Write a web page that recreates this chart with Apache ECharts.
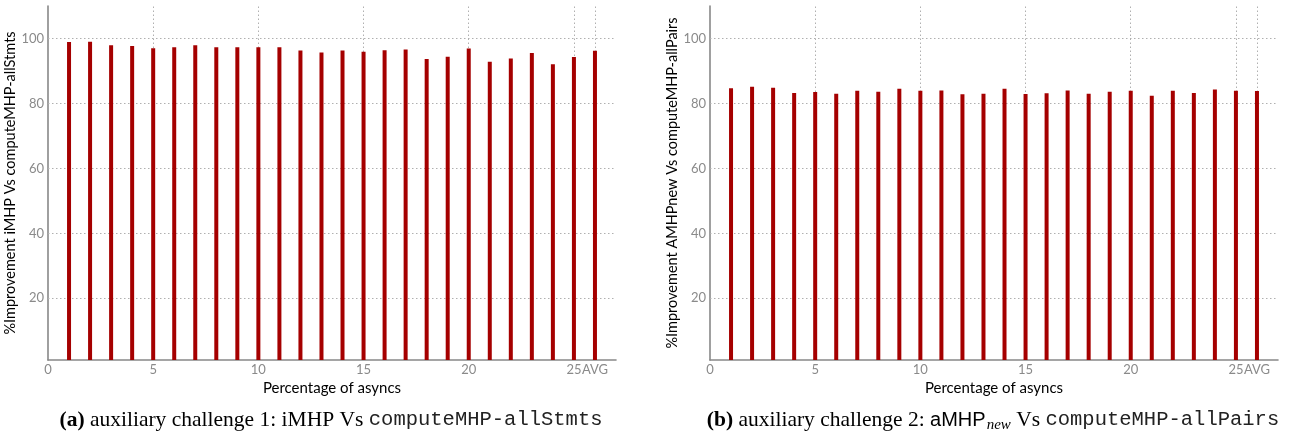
<!DOCTYPE html>
<html>
<head>
<meta charset="utf-8">
<script src="https://cdn.jsdelivr.net/npm/echarts@6/dist/echarts.min.js"></script>
<style>html,body{margin:0;padding:0;background:#fff}#c{width:1300px;height:434px}</style>
</head>
<body>
<div id="c"></div>
<script>
// x positions: percentage of asyncs 1..25, plus AVG at position 26
const xPositions = [1,2,3,4,5,6,7,8,9,10,11,12,13,14,15,16,17,18,19,20,21,22,23,24,25,26];
const xTickValues = [0,5,10,15,20,25,26];
const xTickLabels = ['0','5','10','15','20','25','AVG'];
const xGridValues = [5,10,15,20,25,26];
const yTickValues = [20,40,60,80,100];

const improvementA = [98.9,99.0,97.9,97.7,97.0,97.3,97.9,97.3,97.3,97.3,97.3,96.3,95.7,96.3,95.9,96.4,96.6,93.7,94.4,96.9,92.8,93.8,95.5,92.1,94.3,96.2];
const improvementB = [84.7,85.1,84.8,83.2,83.5,83.0,83.9,83.6,84.5,83.9,84.0,82.8,83.0,84.5,82.9,83.1,84.0,83.0,83.6,83.9,82.4,83.9,83.2,84.3,83.9,83.8];

const yNameA = '%Improvement iMHP Vs computeMHP-allStmts';
const yNameB = '%Improvement AMHPnew Vs computeMHP-allPairs';
const xName = 'Percentage of asyncs';

const FONT = 'Lato, "Open Sans", sans-serif';
const GRAY = '#8a8a8a';
const GRID_LINE = { color: '#b0b0b0', type: [1.5, 2.5], width: 1 };

function xAxis(gi) {
  return {
    type: 'value', gridIndex: gi, min: 0, max: 27,
    name: xName, nameLocation: 'middle', nameGap: 12,
    nameTextStyle: { color: '#000', fontSize: 15, fontFamily: FONT },
    axisLine: { show: true, lineStyle: { color: '#888', width: 1.6 } },
    axisTick: { show: false },
    axisLabel: {
      customValues: xTickValues, color: GRAY, fontSize: 13, fontFamily: FONT, margin: 3,
      formatter: v => xTickLabels[xTickValues.indexOf(v)]
    },
    splitLine: { show: false }
  };
}
function yAxis(gi, name) {
  return {
    type: 'value', gridIndex: gi, min: 1, max: 110,
    name: name, nameLocation: 'middle', nameGap: 26, nameRotate: 90,
    nameTextStyle: { color: '#000', fontSize: 14.5, fontFamily: FONT },
    axisLine: { show: true, lineStyle: { color: '#888', width: 1.6 } },
    axisTick: { show: false },
    axisLabel: { customValues: yTickValues, color: GRAY, fontSize: 13, fontFamily: FONT, margin: 4 },
    splitLine: { show: false }
  };
}
function gridSeries(gi) {
  return {
    type: 'line', xAxisIndex: gi, yAxisIndex: gi, data: [], z: 1, silent: true,
    markLine: {
      z: 1, silent: true, symbol: 'none', animation: false,
      label: { show: false },
      lineStyle: GRID_LINE,
      data: xGridValues.map(v => ({ xAxis: v })).concat(yTickValues.map(v => ({ yAxis: v })))
    }
  };
}
function barSeries(gi, vals) {
  return {
    type: 'bar', xAxisIndex: gi, yAxisIndex: gi, barWidth: 4, z: 3,
    itemStyle: { color: '#a50000' },
    data: xPositions.map((x, i) => [x, vals[i]])
  };
}

const chart = echarts.init(document.getElementById('c'), null, { renderer: 'canvas' });
chart.setOption({
  animation: false,
  grid: [
    { left: 48, width: 568, top: 6, height: 354 },
    { left: 710, width: 568, top: 6, height: 354 }
  ],
  xAxis: [xAxis(0), xAxis(1)],
  yAxis: [yAxis(0, yNameA), yAxis(1, yNameB)],
  series: [gridSeries(0), gridSeries(1), barSeries(0, improvementA), barSeries(1, improvementB)],
  graphic: [
    { type: 'text', x: 331, y: 420, style: {
      text: '{b|(a)}{s| auxiliary challenge 1: iMHP Vs }{m|computeMHP-allStmts}',
      align: 'center', verticalAlign: 'middle',
      rich: {
        b: { fontFamily: '"Liberation Serif", serif', fontWeight: 'bold', fontSize: 21.5, fill: '#000' },
        s: { fontFamily: '"Liberation Serif", serif', fontSize: 21.5, fill: '#000' },
        m: { fontFamily: '"Liberation Mono", monospace', fontSize: 20.5, fill: '#222' }
      }
    }},
    { type: 'text', x: 993, y: 420, style: {
      text: '{b|(b)}{s| auxiliary challenge 2: }{h|aMHP}{sub|new}{s| Vs }{m|computeMHP-allPairs}',
      align: 'center', verticalAlign: 'middle',
      rich: {
        b: { fontFamily: '"Liberation Serif", serif', fontWeight: 'bold', fontSize: 21.5, fill: '#000' },
        s: { fontFamily: '"Liberation Serif", serif', fontSize: 21.5, fill: '#000' },
        h: { fontFamily: '"Liberation Sans", sans-serif', fontSize: 20, fill: '#000' },
        sub: { fontFamily: '"Liberation Serif", serif', fontStyle: 'italic', fontSize: 15, fill: '#000', padding: [10, 0, 0, 1] },
        m: { fontFamily: '"Liberation Mono", monospace', fontSize: 20.5, fill: '#222' }
      }
    }}
  ]
});
</script>
</body>
</html>
